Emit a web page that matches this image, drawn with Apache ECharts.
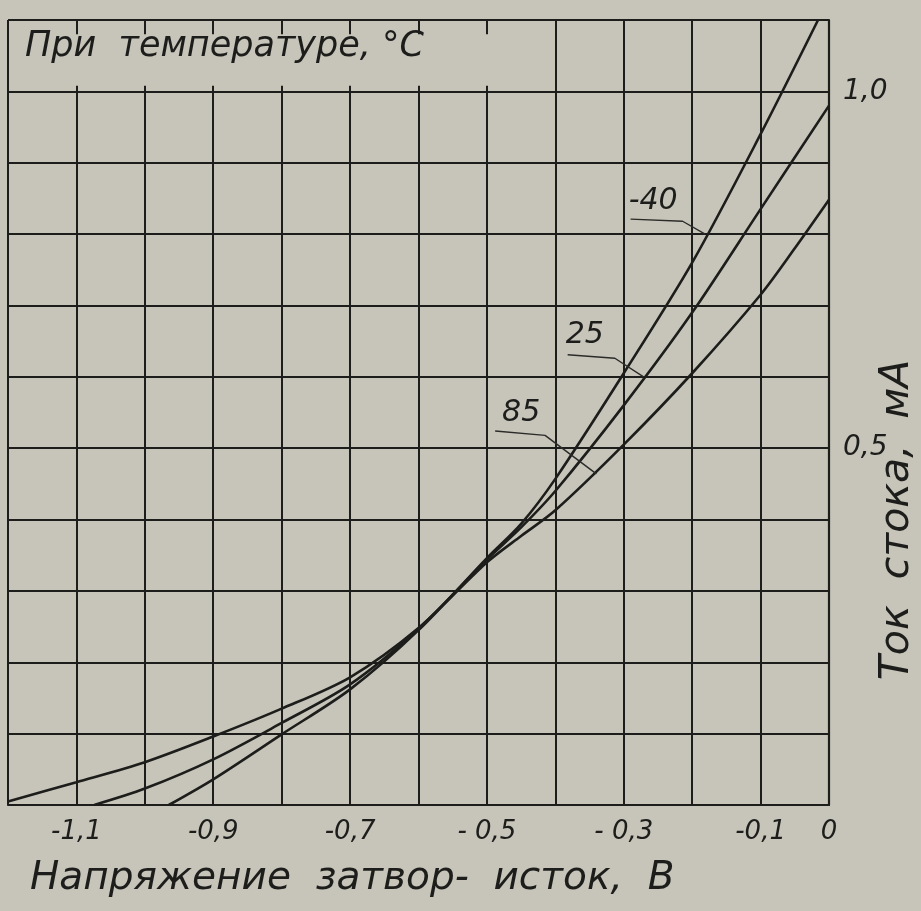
<!DOCTYPE html>
<html>
<head>
<meta charset="utf-8">
<script src="https://cdn.jsdelivr.net/npm/echarts@6/dist/echarts.min.js"></script>
<style>
html,body{margin:0;padding:0;background:#c7c5b9;}
#c{width:921px;height:911px;}
</style>
</head>
<body>
<div id="c"></div>
<script>
// ---- data (gate-source voltage, V ; drain current, mA) ----
const temperatures = ['-40', '25', '85'];
const curveM40 = [[-0.965,0],[-0.9,0.036],[-0.8,0.099],[-0.7,0.162],[-0.6,0.245],[-0.5,0.346],[-0.45,0.394],[-0.4,0.457],[-0.3,0.605],[-0.2,0.76],[-0.1,0.94],[-0.016,1.1]];
const curve25  = [[-1.074,0],[-1.0,0.023],[-0.9,0.064],[-0.8,0.115],[-0.7,0.169],[-0.6,0.247],[-0.5,0.344],[-0.45,0.389],[-0.4,0.44],[-0.3,0.56],[-0.2,0.69],[-0.1,0.835],[0,0.98]];
const curve85  = [[-1.2,0.005],[-1.1,0.032],[-1.0,0.06],[-0.9,0.096],[-0.8,0.135],[-0.7,0.179],[-0.6,0.248],[-0.5,0.34],[-0.45,0.377],[-0.4,0.413],[-0.3,0.505],[-0.2,0.605],[-0.1,0.715],[-0.05,0.78],[0,0.848]];
const xTickValues = [-1.1,-0.9,-0.7,-0.5,-0.3,-0.1,0];
const xTickLabels = ['-1,1','-0,9','-0,7','- 0,5','- 0,3','-0,1','0'];
const yTickValues = [0.5, 1.0];
const yTickLabels = ['0,5','1,0'];
const curveLabelAnchors = [[-0.257,0.846],[-0.357,0.659],[-0.45,0.549]];
const leaderM40 = [[-0.29,0.821],[-0.214,0.818],[-0.181,0.8]];
const leader25  = [[-0.382,0.631],[-0.313,0.626],[-0.271,0.6]];
const leader85  = [[-0.488,0.524],[-0.415,0.518],[-0.34,0.464]];
const titleText = 'При  температуре, °C';
const xName = 'Напряжение  затвор-  исток,  В';
const yName = 'Ток  стока,  мА';

// ---- styles ----
const ink = '#1d1d1b';
const paper = '#c7c5b9';
const font = 'DejaVu Sans';

const fmt = (vals, labels) => v => {
  const i = vals.findIndex(t => Math.abs(t - v) < 1e-6);
  return i >= 0 ? labels[i] : '';
};
const curve = (name, data, extra) => Object.assign({
  type: 'line', name, data, smooth: 0.3,
  symbol: 'none', lineStyle: {color: ink, width: 2.6}, z: 3, silent: true
}, extra || {});
const leader = (data) => ({
  type: 'line', data, symbol: 'none', smooth: false,
  lineStyle: {color: '#2b2b29', width: 1.4}, z: 3, silent: true
});

const chart = echarts.init(document.getElementById('c'));
chart.setOption({
  backgroundColor: paper,
  animation: false,
  grid: {left: 8, top: 20, width: 821, height: 785, outerBoundsMode: 'none'},
  xAxis: {
    type: 'value', min: -1.2, max: 0, interval: 0.1,
    axisLine: {show: true, onZero: false, lineStyle: {color: ink, width: 2.2}},
    axisTick: {show: false},
    splitLine: {show: true, lineStyle: {color: ink, width: 2}},
    axisLabel: {formatter: fmt(xTickValues, xTickLabels), margin: 14, fontSize: 26,
      fontStyle: 'italic', fontFamily: font, color: ink, showMinLabel: true, showMaxLabel: true}
  },
  yAxis: {
    type: 'value', position: 'right', min: 0, max: 1.1, interval: 0.1,
    axisLine: {show: true, onZero: false, lineStyle: {color: ink, width: 2.2}},
    axisTick: {show: false},
    splitLine: {show: true, lineStyle: {color: ink, width: 2}},
    axisLabel: {formatter: fmt(yTickValues, yTickLabels), margin: 14, fontSize: 28,
      fontStyle: 'italic', fontFamily: font, color: ink, showMinLabel: true, showMaxLabel: true}
  },
  series: [
    curve('-40', curveM40),
    curve('25', curve25),
    curve('85', curve85, {
      markArea: {
        silent: true,
        itemStyle: {color: paper},
        label: {show: false},
        data: [[{coord: [-1.196, 1.008]}, {coord: [-0.45, 1.08]}]]
      }
    }),
    leader(leaderM40),
    leader(leader25),
    leader(leader85),
    {
      type: 'scatter', data: curveLabelAnchors, symbolSize: 0,
      itemStyle: {color: ink}, z: 4, silent: true,
      label: {show: true, position: 'inside', formatter: p => temperatures[p.dataIndex],
        fontSize: 30, fontStyle: 'italic', fontFamily: font, color: ink, opacity: 1}
    }
  ],
  graphic: [
    {type: 'text', left: 25, top: 29, z: 10, silent: true,
      style: {text: titleText, fontSize: 35, fontStyle: 'italic', fontFamily: font, fill: ink}},
    {type: 'text', left: 30, top: 859, z: 10, silent: true,
      style: {text: xName, fontSize: 39, fontStyle: 'italic', fontFamily: font, fill: ink}},
    {type: 'text', x: 897, y: 520, rotation: Math.PI / 2, z: 10, silent: true,
      style: {text: yName, fontSize: 41, fontStyle: 'italic', fontFamily: font, fill: ink,
        align: 'center', verticalAlign: 'middle'}}
  ]
});
</script>
</body>
</html>
